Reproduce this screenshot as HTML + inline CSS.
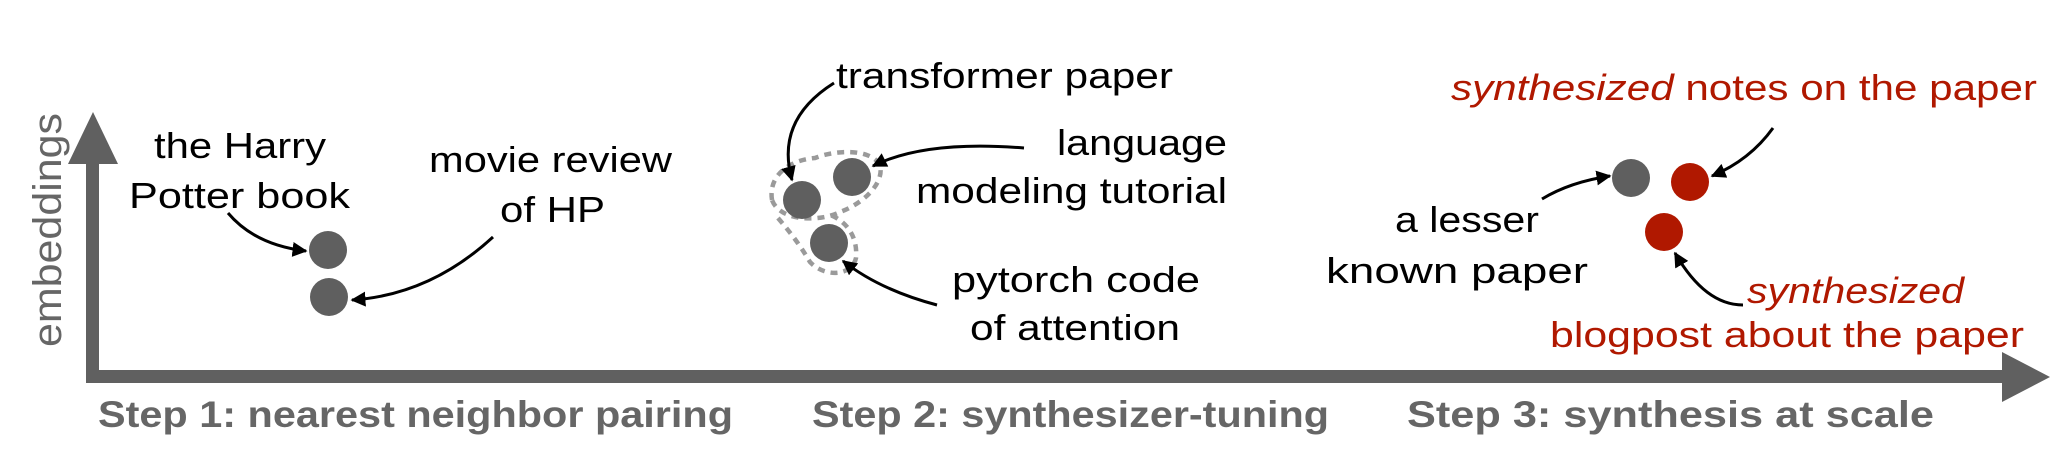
<!DOCTYPE html>
<html><head><meta charset="utf-8"><style>
html,body{margin:0;padding:0;background:#fff;}
svg{display:block;}
text{font-family:"Liberation Sans",sans-serif;}
</style></head><body>
<svg width="2053" height="458" viewBox="0 0 2053 458" xmlns="http://www.w3.org/2000/svg">
<defs>
<marker id="ah" viewBox="0 0 10 10" refX="9" refY="5" markerWidth="5" markerHeight="5" orient="auto" markerUnits="strokeWidth">
<path d="M0,0 L10,5 L0,10 z" fill="#000"/></marker>
</defs>
<!-- axes -->
<rect x="86" y="160" width="13" height="223" fill="#606060"/>
<polygon points="68,164 118,164 93,112" fill="#606060"/>
<rect x="86" y="370" width="1920" height="13" fill="#606060"/>
<polygon points="2002,352 2002,402 2050,377" fill="#606060"/>
<text transform="translate(61,347) rotate(-90)" font-size="40" fill="#666" textLength="234" lengthAdjust="spacingAndGlyphs">embeddings</text>

<!-- step labels -->
<g font-weight="bold" font-size="37" fill="#666">
<text x="98" y="427" textLength="635" lengthAdjust="spacingAndGlyphs">Step 1: nearest neighbor pairing</text>
<text x="812" y="427" textLength="517" lengthAdjust="spacingAndGlyphs">Step 2: synthesizer-tuning</text>
<text x="1407" y="427" textLength="527" lengthAdjust="spacingAndGlyphs">Step 3: synthesis at scale</text>
</g>

<!-- Step 1 -->
<circle cx="328" cy="250" r="19" fill="#5f5f5f"/>
<circle cx="329" cy="297" r="19" fill="#5f5f5f"/>
<g font-size="36" fill="#000">
<text x="154" y="158" textLength="172" lengthAdjust="spacingAndGlyphs">the Harry</text>
<text x="129" y="208" textLength="221" lengthAdjust="spacingAndGlyphs">Potter book</text>
<text x="429" y="172" textLength="243" lengthAdjust="spacingAndGlyphs">movie review</text>
<text x="500" y="222" textLength="105" lengthAdjust="spacingAndGlyphs">of HP</text>
</g>
<g fill="none" stroke="#000" stroke-width="3" marker-end="url(#ah)">
<path d="M228,213 Q255,245 306,251"/>
<path d="M493,237 Q430,295 352,300"/>
</g>

<!-- Step 2 -->
<g fill="none" stroke="#9a9a9a" stroke-width="4.5" stroke-dasharray="7,6">
<path d="M772,200 C768,175 790,160 815,158 C835,150 870,148 880,165 C885,185 860,205 840,212 C820,222 780,222 772,200 z"/>
<path d="M778,218 C790,232 800,245 810,262 C825,278 852,276 856,258 C858,235 845,220 828,214"/>
</g>
<circle cx="802" cy="200" r="19" fill="#5f5f5f"/>
<circle cx="852" cy="177" r="19" fill="#5f5f5f"/>
<circle cx="829" cy="243" r="19" fill="#5f5f5f"/>
<g font-size="36" fill="#000">
<text x="836" y="88" textLength="337" lengthAdjust="spacingAndGlyphs">transformer paper</text>
<text x="1057" y="155" textLength="170" lengthAdjust="spacingAndGlyphs">language</text>
<text x="916" y="203" textLength="311" lengthAdjust="spacingAndGlyphs">modeling tutorial</text>
<text x="952" y="292" textLength="248" lengthAdjust="spacingAndGlyphs">pytorch code</text>
<text x="970" y="340" textLength="210" lengthAdjust="spacingAndGlyphs">of attention</text>
</g>
<g fill="none" stroke="#000" stroke-width="3" marker-end="url(#ah)">
<path d="M834,83 Q775,120 792,180"/>
<path d="M1024,148 Q925,140 873,166"/>
<path d="M937,305 Q880,290 843,261"/>
</g>

<!-- Step 3 -->
<circle cx="1631" cy="178" r="19" fill="#5f5f5f"/>
<circle cx="1690" cy="182" r="19" fill="#b01800"/>
<circle cx="1664" cy="232" r="19" fill="#b01800"/>
<g font-size="36">
<text x="1451" y="100" fill="#b01800" textLength="586" lengthAdjust="spacingAndGlyphs"><tspan font-style="italic">synthesized</tspan> notes on the paper</text>
<text x="1395" y="232" fill="#000" textLength="144" lengthAdjust="spacingAndGlyphs">a lesser</text>
<text x="1326" y="283" fill="#000" textLength="262" lengthAdjust="spacingAndGlyphs">known paper</text>
<text x="1747" y="303" fill="#b01800" font-style="italic" textLength="217" lengthAdjust="spacingAndGlyphs">synthesized</text>
<text x="1550" y="347" fill="#b01800" textLength="474" lengthAdjust="spacingAndGlyphs">blogpost about the paper</text>
</g>
<g fill="none" stroke="#000" stroke-width="3" marker-end="url(#ah)">
<path d="M1773,128 Q1750,160 1712,176"/>
<path d="M1542,199 Q1570,182 1610,176"/>
<path d="M1743,305 Q1705,305 1675,253"/>
</g>
</svg>
</body></html>
